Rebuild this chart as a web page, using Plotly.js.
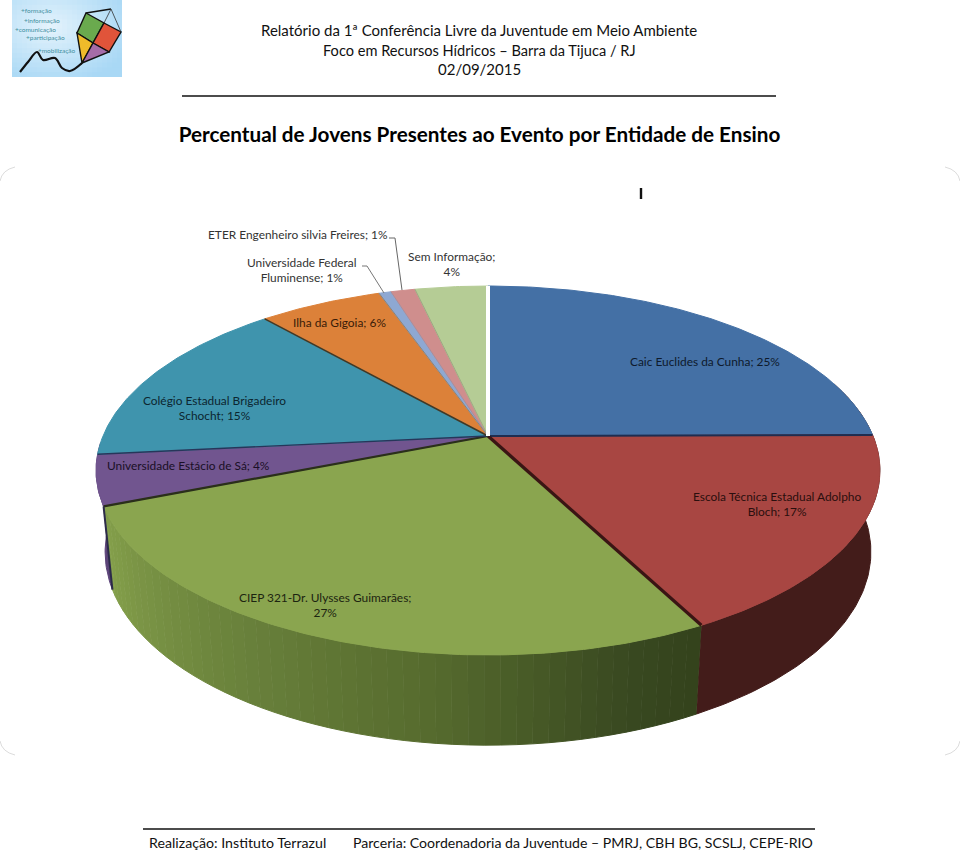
<!DOCTYPE html>
<html><head><meta charset="utf-8">
<script src="https://cdn.plot.ly/plotly-3.0.1.min.js"></script>
<style>html,body{margin:0;padding:0;background:#fff}#c{width:960px;height:851px}</style>
</head><body><div id="c"></div>
<script>
// ---------- data ----------
const categories = ['Caic Euclides da Cunha','Escola Técnica Estadual Adolpho Bloch','CIEP 321-Dr. Ulysses Guimarães','Universidade Estácio de Sá','Colégio Estadual Brigadeiro Schocht','Ilha da Gigoia','Universidade Federal Fluminense','ETER Engenheiro silvia Freires','Sem Informação'];
const values = [24.9,17.45,26.65,4.4,15.1,6.1,0.6,1.2,3.6];
const percentLabels = ['25%','17%','27%','4%','15%','6%','1%','1%','4%'];
// ---------- styles ----------
const faceColors = ['#4470a5','#a84642','#8aa54f','#71558f','#3f94ad','#dc8139','#8ea8d2','#cf8e8d','#b5cc95'];
const seamColors = ['#1f2d50','#3a1514','#2a2f1a','#27365a','#3d3a2a','#8d7a60','#8b8fa8','#99a080','#ffffff'];
const seamWidths = [2,3.2,2.2,1.4,1.6,0.8,0.6,0.8,4];
const FONT = 'Lato, Carlito, Calibri, sans-serif';
// ---------- projection of the tilted disc onto the page ----------
const cx=488, cy=436, R=385, a=96.5, c=-0.187;
function rim(p){const t=2*Math.PI*p/100,u=Math.sin(t),v=-Math.cos(t),d=1+c*v;return [cx+R*u/d,(cy+a*v)/d];}
function low(q){return [cx+0.977*(q[0]-cx),1.047*q[1]+59.4];}
const traces=[];
function poly(pts,color,name){traces.push({type:'scatter',mode:'lines',x:pts.map(q=>q[0]),y:pts.map(q=>q[1]),fill:'toself',fillcolor:color,line:{color:color,width:1},name:name,hoverinfo:'name',showlegend:false});}
function wall(p0,p1,color,name){const top=[],bot=[];for(let p=p0;p<p1;p+=0.25){const q=rim(p);top.push(q);bot.push(low(q));}const e=rim(p1);top.push(e);bot.push(low(e));poly(top.concat(bot.reverse()),color,name);}
function mix(h1,h2,t){const f=(h,i)=>parseInt(h.substr(1+2*i,2),16);return 'rgb('+[0,1,2].map(i=>Math.round(f(h1,i)+(f(h2,i)-f(h1,i))*t)).join(',')+')';}
const cum=[0];values.forEach((v,i)=>cum.push(cum[i]+v));
// side walls
wall(cum[3],cum[4]+1,'#5c4479',categories[3]);
wall(20,cum[2],'#431c1a',categories[1]);
const greenStops=[[0,'#33421c'],[0.12,'#3a4a21'],[0.35,'#556a2d'],[0.6,'#677f3a'],[0.85,'#7a9445'],[1,'#85a14b']];
const N=48;
for(let i=0;i<N;i++){
  const f0=i/N,f1=(i+1)/N,p0=cum[2]+values[2]*f0,p1=cum[2]+values[2]*f1,fm=(f0+f1)/2;
  let k=0;while(k<greenStops.length-2&&fm>greenStops[k+1][0])k++;
  const t=(fm-greenStops[k][0])/(greenStops[k+1][0]-greenStops[k][0]);
  wall(p0,p1,mix(greenStops[k][1],greenStops[k+1][1],t),categories[2]);
}
// top faces
values.forEach((v,i)=>{const pts=[[cx,cy]];for(let p=cum[i];p<cum[i+1];p+=0.2)pts.push(rim(p));pts.push(rim(cum[i+1]));pts.push([cx,cy]);poly(pts,faceColors[i],categories[i]);});
// seams between slices
values.forEach((v,i)=>{const q=rim(cum[i+1]);traces.push({type:'scatter',mode:'lines',x:[cx,q[0]],y:[cy,q[1]],line:{color:seamColors[i],width:seamWidths[i]},hoverinfo:'skip',showlegend:false});});
// green corner edge on the wall
[cum[3]].forEach(p=>{const q=rim(p),r=low(q);traces.push({type:'scatter',mode:'lines',x:[q[0],r[0]],y:[q[1],r[1]],line:{color:'#2c2a4a',width:2},hoverinfo:'skip',showlegend:false});});
// kite logo tail
traces.push({type:'scatter',mode:'lines',x:[82,70,62,55,43,37,28,20],y:[63,71,68,58,60,52,62,72],line:{color:'#111',width:2.2,shape:'spline'},hoverinfo:'skip',showlegend:false});

// ---------- shapes ----------
const shapes=[];
function line(x0,y0,x1,y1,col,w){shapes.push({type:'line',xref:'x',yref:'y',x0,y0,x1,y1,line:{color:col,width:w}});}
// logo background
const gx=22,gy=16;
for(let i=0;i<gx;i++)for(let j=0;j<gy;j++){
  const x0=12+110*i/gx,x1=i<gx-1?12+110*(i+1)/gx+1:122,y0=77*j/gy,y1=j<gy-1?77*(j+1)/gy+1:77;
  const d=Math.min(1,Math.sqrt(Math.pow((i+.5)/gx-0.35,2)+Math.pow((j+.5)/gy-0.35,2))/0.75);
  shapes.push({type:'rect',xref:'x',yref:'y',x0,x1,y0,y1,fillcolor:mix('#e4f3fc','#a9d8f5',d),line:{width:0},layer:'below'});
}
function quad(pts,col){shapes.push({type:'path',xref:'x',yref:'y',path:'M'+pts.map(q=>q.join(',')).join('L')+'Z',fillcolor:col,line:{color:'#111',width:1.4}});}
quad([[86,13],[104,23],[93,43],[77,33]],'#6aaa4e');
quad([[104,23],[121,32],[109,52],[93,43]],'#e0543a');
quad([[77,33],[93,43],[82,63]],'#efbb2a');
quad([[93,43],[109,52],[82,63]],'#a56ca8');
line(86,13,111,9,'#111',1.4);line(111,9,121,32,'#333',0.8);line(111,9,104,23,'#333',0.8);
// rules
line(182,96,776,96,'#111',1.4);
line(143,829,815,829,'#111',1.4);
// stray mark above the chart
line(641,188,641,199,'#111',2.4);
// leader lines
shapes.push({type:'path',xref:'x',yref:'y',path:'M389,238L395,238L402,290',line:{color:'#666',width:1}});
shapes.push({type:'path',xref:'x',yref:'y',path:'M362,266L367,266L384,293',line:{color:'#777',width:1}});
// chart frame corners
[['M0,181Q2,170 15,167'],['M945,167Q958,170 960,181'],['M0,741Q2,752 15,755'],['M945,755Q958,752 960,741']].forEach(p=>shapes.push({type:'path',xref:'x',yref:'y',path:p[0],line:{color:'#dcdcdc',width:1}}));

// ---------- text ----------
const annotations=[];
function txt(x,y,t,size,col,extra){annotations.push(Object.assign({xref:'x',yref:'y',x,y,text:t,showarrow:false,xanchor:'center',yanchor:'middle',font:{family:FONT,size,color:col}},extra||{}));}
function lab(i,name){return name+'; '+percentLabels[i];}
txt(479,30,'Relatório da 1ª Conferência Livre da Juventude em Meio Ambiente',15,'#111');
txt(479,50,'Foco em Recursos Hídricos – Barra da Tijuca / RJ',14.6,'#111');
txt(479,69,'02/09/2015',15,'#111');
txt(237.5,842,'Realização: Instituto Terrazul',14.2,'#111');
txt(582.5,842,'Parceria: Coordenadoria da Juventude – PMRJ, CBH BG, SCSLJ, CEPE-RIO',14.1,'#111');
const L=11.9,gr='#333';
txt(705,361,lab(0,'Caic Euclides da Cunha'),L,'#0e1a2c');
txt(777,504,'Escola Técnica Estadual Adolpho<br>'+lab(1,'Bloch'),L,'#2a0f0e');
txt(325,605,'CIEP 321-Dr. Ulysses Guimarães;<br>'+percentLabels[2],L,'#1c2410');
txt(188,465,lab(3,'Universidade Estácio de Sá'),L,'#1a1026');
txt(214,408,'Colégio Estadual Brigadeiro<br>'+lab(4,'Schocht'),L,'#0c2630');
txt(339,322,lab(5,'Ilha da Gigoia'),L,'#3a1c08');
txt(297.5,234,lab(7,'ETER Engenheiro silvia Freires'),L,gr);
txt(302,270,'Universidade Federal<br>'+lab(6,'Fluminense'),L,gr);
txt(451,264,'Sem Informação;<br>'+percentLabels[8],L,gr);
// logo words
const lw=[[36,10,'+formação'],[42,20,'+informação'],[35,29,'+comunicação'],[45,37,'+participação'],[57,50,'+mobilização']];
lw.forEach(w=>txt(w[0],w[1],w[2],6.5,'#3f8f9f'));

Plotly.newPlot('c',traces,{
  width:960,height:851,margin:{l:0,r:0,t:0,b:0},paper_bgcolor:'#fff',plot_bgcolor:'#fff',showlegend:false,
  title:{text:'Percentual de Jovens Presentes ao Evento por Entidade de Ensino',x:479.5/960,xanchor:'center',y:1-135/851,yanchor:'middle',font:{family:FONT,size:20.7,color:'#000',weight:700}},
  xaxis:{range:[0,960],visible:false,fixedrange:true},
  yaxis:{range:[851,0],visible:false,fixedrange:true},
  shapes,annotations
},{displayModeBar:false,staticPlot:true});
</script></body></html>
